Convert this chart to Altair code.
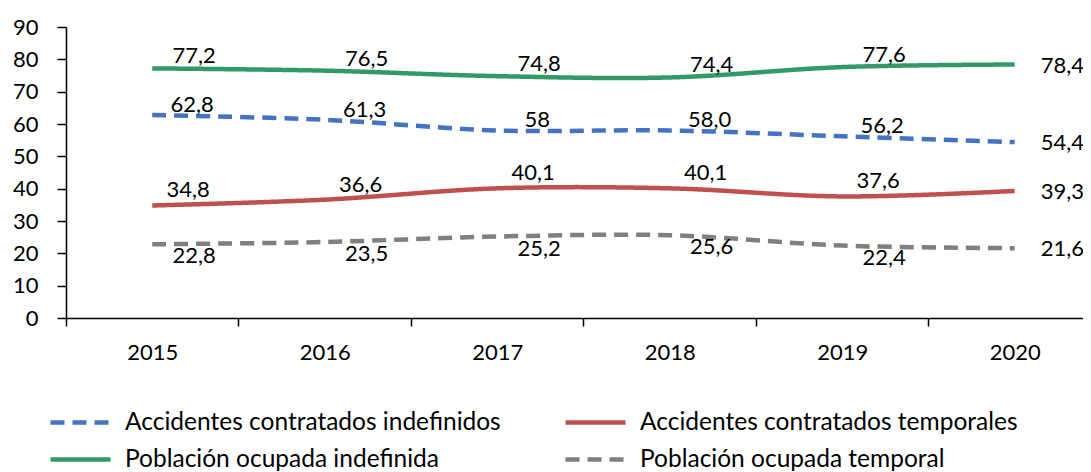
import altair as alt
import pandas as pd

years = [2015, 2016, 2017, 2018, 2019, 2020]
series_names = [
    "Accidentes contratados indefinidos",
    "Accidentes contratados temporales",
    "Población ocupada indefinida",
    "Población ocupada temporal",
]
acc_indef = [62.8, 61.3, 58, 58.0, 56.2, 54.4]
acc_temp = [34.8, 36.6, 40.1, 40.1, 37.6, 39.3]
pob_indef = [77.2, 76.5, 74.8, 74.4, 77.6, 78.4]
pob_temp = [22.8, 23.5, 25.2, 25.6, 22.4, 21.6]
y_ticks = [0, 10, 20, 30, 40, 50, 60, 70, 80, 90]

colors = ["#4472C4", "#C0504D", "#339966", "#7F7F7F"]
dashes = [[14, 8], [1, 0], [1, 0], [14, 8]]

rows = []
for name, vals in zip(series_names, [acc_indef, acc_temp, pob_indef, pob_temp]):
    for yr, v in zip(years, vals):
        rows.append({"year": yr, "value": float(v), "series": name,
                     "label": str(v).replace(".", ",")})
df = pd.DataFrame(rows)

FONT = "Lato"
FS = 22

x_scale = alt.Scale(domain=[2014.5, 2020.396], nice=False, zero=False)
y_scale = alt.Scale(domain=[0, 90], nice=False)

label_axis = alt.Axis(
    orient="bottom",
    values=years, title=None, grid=False, format="d", labelOverlap=False,
    tickOpacity=0, tickSize=8, labelPadding=16, labelFontSize=FS, labelFont=FONT,
    labelFontWeight="normal", domain=False,
    labelColor="black", labelFlush=False,
)
tick_axis = alt.Axis(
    orient="bottom",
    values=[yr - 0.5 for yr in years], title=None, grid=False, labels=False,
    tickSize=8, domainColor="black", tickColor="black",
    domainWidth=1.5, tickWidth=1.5,
)
y_axis = alt.Axis(
    values=y_ticks, title=None, grid=False, labelOverlap=False,
    tickSize=9, labelPadding=19, labelFontSize=FS, labelFont=FONT,
    labelFontWeight="normal",
    labelColor="black", domainColor="black", tickColor="black",
    domainWidth=1.5, tickWidth=1.5,
)


def ye():
    return alt.Y("value:Q", scale=y_scale, axis=y_axis)


leg = alt.Legend(
    title=None, orient="none", legendX=-3, legendY=378, columns=2,
    direction="horizontal",
    symbolType="M-2,0H2", symbolSize=900, symbolStrokeWidth=4.5,
    labelFontSize=24.5, labelFont=FONT, labelColor="black", labelOffset=27,
    columnPadding=55, rowPadding=8, labelLimit=600,
)

base = alt.Chart(df)

tick_layer = base.mark_point(opacity=0).encode(
    x=alt.X("year:Q", scale=x_scale, axis=tick_axis),
    y=ye(),
)

lines = base.mark_line(strokeWidth=4.5, interpolate="catmull-rom").encode(
    x=alt.X("year:Q", scale=x_scale, axis=label_axis),
    y=ye(),
    color=alt.Color("series:N", scale=alt.Scale(domain=series_names, range=colors), legend=leg),
    strokeDash=alt.StrokeDash("series:N", scale=alt.Scale(domain=series_names, range=dashes), legend=leg),
)

offsets = {
    series_names[0]: (40, -10),
    series_names[1]: (36, -15),
    series_names[2]: (42, -12),
    series_names[3]: (42, 12),
}

layers = [tick_layer, lines]
for name in series_names:
    dx, dy = offsets[name]
    layers.append(
        base.transform_filter(
            (alt.datum.series == name) & (alt.datum.year < 2020)
        ).mark_text(dx=dx, dy=dy, font=FONT, fontSize=FS, color="black",
                    align="center", baseline="middle").encode(
            x=alt.X("year:Q", scale=x_scale, axis=None), y=ye(), text="label:N"
        )
    )
layers.append(
    base.transform_filter(alt.datum.year == 2020).mark_text(
        dx=26, dy=1, font=FONT, fontSize=FS, color="black",
        align="left", baseline="middle").encode(
        x=alt.X("year:Q", scale=x_scale, axis=None), y=ye(), text="label:N"
    )
)

chart = alt.layer(*layers).resolve_axis(x="independent").properties(
    width=1017, height=291,
    autosize=alt.AutoSizeParams(type="none"),
    padding={"left": 58, "top": 19, "right": 0, "bottom": 154},
).configure_view(stroke=None)

chart.save("out.html", embed_options={"renderer": "svg", "actions": False})
